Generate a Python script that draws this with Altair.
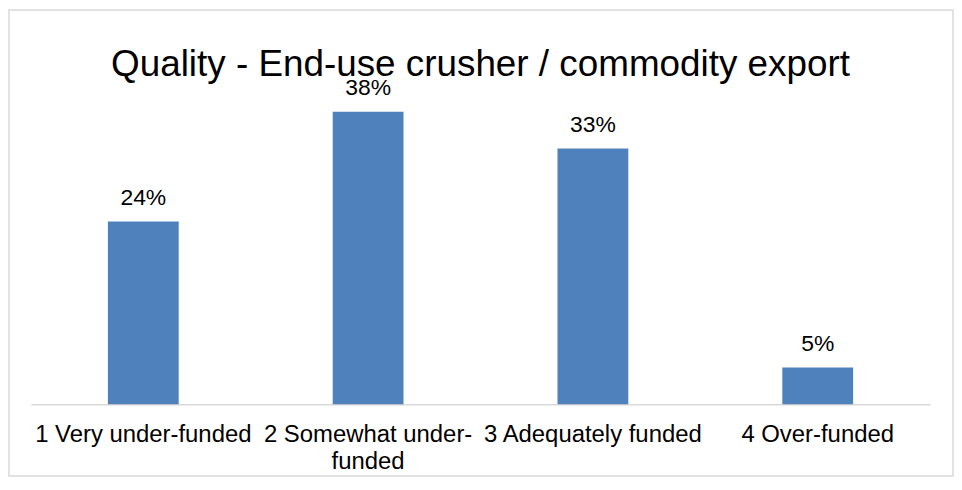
import altair as alt
import pandas as pd

categories = ["1 Very under-funded", "2 Somewhat under-funded", "3 Adequately funded", "4 Over-funded"]
values = [23.8, 38.1, 33.3, 4.8]
title_text = "Quality - End-use crusher / commodity export"

df = pd.DataFrame({"category": categories, "value": values})

FONT = "Liberation Sans"
W, H = 950, 470
PL, PT, PR, PB = 23, 87, 24, 73
PW, PH = W - PL - PR, H - PT - PB

x_enc = alt.X(
    "category:N",
    sort=categories,
    title=None,
    scale=alt.Scale(paddingInner=0.685, paddingOuter=0.3425),
    axis=alt.Axis(
        labelAngle=0,
        labelFont=FONT,
        labelFontSize=24,
        labelColor="black",
        labelPadding=18,
        labelLimit=400,
        labelOverlap=False,
        labelLineHeight=27,
        labelBaseline="top",
        labelExpr="datum.label == '2 Somewhat under-funded' ? ['2 Somewhat under-', 'funded'] : datum.label",
        ticks=False,
        grid=False,
        domainColor="#d9d9d9",
        domainWidth=1.5,
    ),
)
y_enc = alt.Y("value:Q", axis=None, scale=alt.Scale(domain=[0, 40.2], nice=False))

base = alt.Chart(df)
bars = base.mark_bar(color="#4F81BD").encode(x=x_enc, y=y_enc)
labels = base.transform_calculate(
    label="format(datum.value, '.0f') + '%'"
).mark_text(
    font=FONT, fontSize=23, color="black", baseline="alphabetic", dy=-17
).encode(x=x_enc, y=y_enc, text="label:N")

one = pd.DataFrame({"t": [title_text]})
border = alt.Chart(one).mark_rect(
    fillOpacity=0, stroke="#d9d9d9", strokeWidth=1.5
).encode(
    x=alt.value(-PL + 1), x2=alt.value(W - PL - 1),
    y=alt.value(-PT + 1), y2=alt.value(H - PT - 1),
)
title = alt.Chart(one).mark_text(
    font=FONT, fontSize=37, color="black", baseline="alphabetic", align="center"
).encode(x=alt.value(PW / 2), y=alt.value(-20), text="t:N")

chart = alt.layer(border, bars, labels, title).properties(
    width=PW,
    height=PH,
    padding={"left": PL, "top": PT, "right": PR, "bottom": PB},
    autosize=alt.AutoSizeParams(type="none"),
    background="white",
).configure_view(stroke=None)

chart.save("out.html", embed_options={"renderer": "svg", "actions": False})
